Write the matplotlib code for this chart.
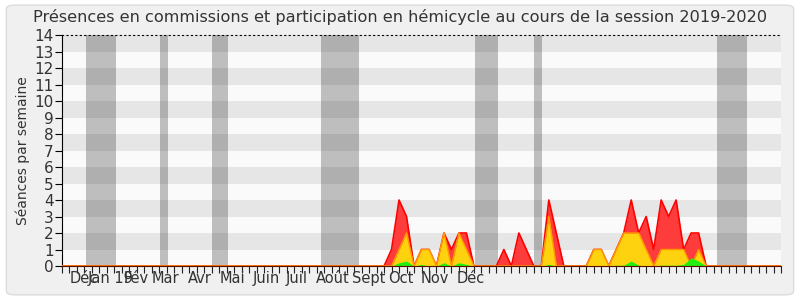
import matplotlib
matplotlib.use('Agg')
import matplotlib.pyplot as plt
from matplotlib.patches import FancyBboxPatch
import numpy as np

# weekly values, starting at week 42 of the axis
first_week = 42
red_vals = [0, 0, 1, 4, 3, 0, 1, 1, 0, 2, 1, 2, 2, 0,
            0, 0, 0, 1, 0, 2, 1, 0, 0, 4, 2, 0,
            0, 0, 0, 1, 1, 0, 1, 2, 4, 2, 3, 1, 4, 3, 4, 1, 2, 2, 0]
yellow_vals = [0, 0, 0, 1, 2, 0, 1, 1, 0, 2, 0, 2, 1, 0,
               0, 0, 0, 0, 0, 0, 0, 0, 0, 3, 0, 0,
               0, 0, 0, 1, 1, 0, 1, 2, 2, 2, 1, 0, 1, 1, 1, 1, 0, 1, 0]
green_vals = [0, 0, 0, 0.2, 0.3, 0, 0.1, 0, 0, 0.2, 0, 0.2, 0.1, 0,
              0, 0, 0, 0, 0, 0, 0, 0, 0, 0.1, 0, 0,
              0, 0, 0, 0, 0, 0, 0.05, 0.05, 0.3, 0.05, 0, 0, 0.05, 0.05, 0.05, 0.1, 0.5, 0.3, 0]

n_weeks = 96
vacations = [(3.2, 7.2), (13.1, 14.1), (20.0, 22.1), (34.6, 39.7),
             (55.1, 58.2), (63.0, 64.1), (87.5, 91.5)]
month_labels = ['Déc', 'Jan 19', 'Fév', 'Mar', 'Avr', 'Mai', 'Juin', 'Juil',
                'Août', 'Sept', 'Oct', 'Nov', 'Déc']
month_pos = [1.07, 3.47, 8.28, 12.0, 16.8, 21.1, 25.4, 29.8, 33.9, 38.7, 43.5, 47.9, 52.7]

weeks = np.arange(n_weeks + 1)
red = np.zeros(n_weeks + 1)
yellow = np.zeros(n_weeks + 1)
green = np.zeros(n_weeks + 1)
red[first_week:first_week + len(red_vals)] = red_vals
yellow[first_week:first_week + len(yellow_vals)] = yellow_vals
green[first_week:first_week + len(green_vals)] = green_vals

plt.rcParams['font.family'] = 'DejaVu Sans'
fig = plt.figure(figsize=(8, 3), dpi=100)
fig.patch.set_facecolor('white')
bg = FancyBboxPatch((0.008, 0.017), 0.984, 0.966, boxstyle='round,pad=0,rounding_size=0.012',
                    transform=fig.transFigure, facecolor='#f0f0f0', edgecolor='#dcdcdc',
                    linewidth=1, zorder=-10)
fig.patches.append(bg)

ax = fig.add_axes([0.0775, 0.1133, 0.89875, 0.77])
ax.set_facecolor('#fafafa')
for k in range(1, 14, 2):
    ax.axhspan(k, k + 1, color='#e6e6e6', lw=0, zorder=0)
for a, b in vacations:
    ax.axvspan(a, b, color='black', alpha=0.24, lw=0, zorder=1)

ax.fill_between(weeks, 0, red, color='#ff3c3c', lw=0, zorder=2)
ax.plot(weeks, red, color='#ff0000', lw=1.2, zorder=3)
ax.fill_between(weeks, 0, yellow, color='#ffd20f', lw=0, zorder=4)
ax.plot(weeks, yellow, color='#ff9a00', lw=1, zorder=5)
ax.fill_between(weeks, 0, green, color='#22ee11', lw=0, zorder=6)

ax.set_xlim(0, n_weeks)
ax.set_ylim(0, 14)
ax.set_yticks(range(15))
ax.set_xticks(weeks)
ax.set_xticklabels([])
ax.tick_params(axis='y', labelsize=11, length=5, pad=1, direction='out', labelcolor='#333333')
ax.tick_params(axis='x', length=5, direction='out', color='#222222')

ax.spines['right'].set_visible(False)
ax.spines['top'].set_linestyle((0, (1, 3)))
ax.spines['top'].set_color('black')
ax.spines['bottom'].set_color('#5a1000')
ax.spines['bottom'].set_zorder(7)

for lab, p in zip(month_labels, month_pos):
    ax.text(p, -0.33, lab, ha='left', va='top', fontsize=10.5, color='#333333')

ax.set_ylabel('Séances par semaine', fontsize=10, color='#333333', labelpad=3)
fig.text(0.5, 0.942, 'Présences en commissions et participation en hémicycle au cours de la session 2019-2020',
         ha='center', va='center', fontsize=11.6, color='#333333')

fig.savefig('out.png', dpi=100)
